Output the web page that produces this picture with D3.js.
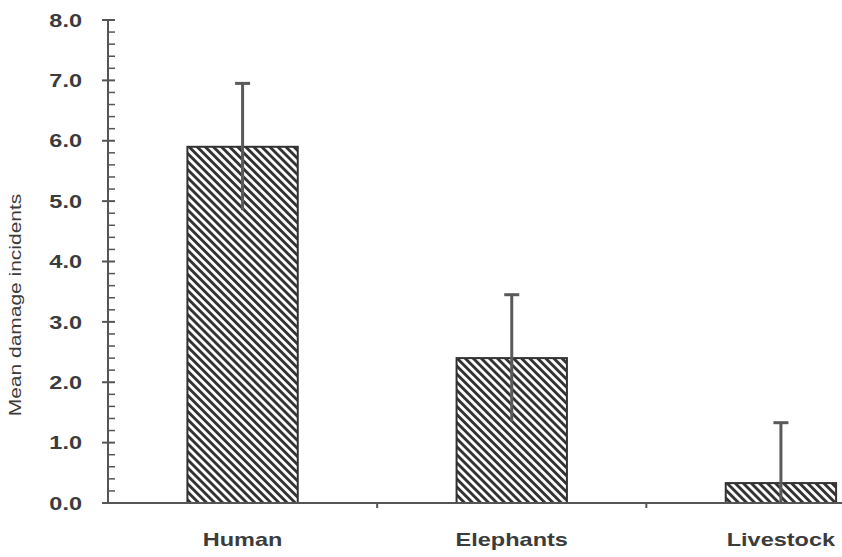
<!DOCTYPE html>
<html>
<head>
<meta charset="utf-8">
<script src="https://cdn.jsdelivr.net/npm/d3@7"></script>
<style>
  html, body { margin: 0; padding: 0; background: #fff; }
  svg { display: block; }
  text { font-family: "Liberation Sans", Arial, sans-serif; fill: #3c3c3c; }
</style>
</head>
<body>
<svg id="chart" width="842" height="557"></svg>
<script>
// Mean damage incidents per source of damage, with error bars
const categories = ["Human", "Elephants", "Livestock"];
const means = [5.9, 2.4, 0.33];
const errors = [1.05, 1.05, 1.0];
const yTicks = [0, 1, 2, 3, 4, 5, 6, 7, 8];
const yLabel = "Mean damage incidents";

const svg = d3.select("#chart");
const W = 842, H = 557;
const plotLeft = 108, plotTop = 20, plotBottom = 503;
const axisColor = "#555";
const wide = 1.27; // the labels use a wide sans face

const y = d3.scaleLinear().domain([0, 8]).range([plotBottom, plotTop]);
const x = d3.scaleBand().domain(categories)
  .range([plotLeft, 915.5]).paddingInner(0.59).paddingOuter(0.295);

// hatch fill
const defs = svg.append("defs");
const pat = defs.append("pattern")
  .attr("id", "hatch").attr("patternUnits", "userSpaceOnUse")
  .attr("width", 5.7).attr("height", 10)
  .attr("patternTransform", "rotate(-45)");
pat.append("rect").attr("width", 5.7).attr("height", 10).attr("fill", "#fff");
pat.append("rect").attr("x", 0).attr("width", 2.9).attr("height", 10).attr("fill", "#333");

function widen(sel) {
  sel.each(function() {
    const len = this.getComputedTextLength();
    d3.select(this).attr("textLength", len * wide).attr("lengthAdjust", "spacingAndGlyphs");
  });
}

// bars
svg.append("g").selectAll("rect").data(categories).join("rect")
  .attr("x", d => x(d))
  .attr("width", x.bandwidth())
  .attr("y", (d, i) => y(means[i]))
  .attr("height", (d, i) => y(0) - y(means[i]))
  .attr("fill", "url(#hatch)")
  .attr("stroke", "#333").attr("stroke-width", 2);

// error bars (upper cap only; lower end clipped at zero)
const eb = svg.append("g").attr("stroke", "#5a5a5a").attr("stroke-width", 3);
categories.forEach((c, i) => {
  const cx = x(c) + x.bandwidth() / 2;
  const hi = means[i] + errors[i];
  const lo = Math.max(0, means[i] - errors[i]);
  eb.append("line").attr("x1", cx).attr("x2", cx).attr("y1", y(hi)).attr("y2", y(lo));
  eb.append("line").attr("x1", cx - 7.5).attr("x2", cx + 7.5).attr("y1", y(hi)).attr("y2", y(hi));
});

// y axis with minor ticks
const ya = svg.append("g").attr("stroke", axisColor).attr("stroke-width", 2);
ya.append("line").attr("x1", plotLeft).attr("x2", plotLeft).attr("y1", y(8)).attr("y2", y(0));
d3.range(0, 8.0001, 0.2).forEach(v => {
  const isMajor = Math.abs(v - Math.round(v)) < 1e-6;
  ya.append("line")
    .attr("x1", isMajor ? plotLeft - 6 : plotLeft).attr("x2", plotLeft + 7)
    .attr("y1", y(v)).attr("y2", y(v))
    .attr("stroke-width", isMajor ? 2 : 1.5);
});
svg.append("g").selectAll("text").data(yTicks).join("text")
  .attr("x", 82).attr("y", d => y(d))
  .attr("dy", "0.36em")
  .attr("text-anchor", "end")
  .attr("font-size", 18.5).attr("font-weight", "bold")
  .text(d => d.toFixed(1))
  .call(widen);

// x axis
const xa = svg.append("g").attr("stroke", axisColor).attr("stroke-width", 2);
xa.append("line").attr("x1", plotLeft).attr("x2", W).attr("y1", plotBottom).attr("y2", plotBottom);
categories.slice(1).forEach(c => {
  const bx = x(c) - x.step() * x.paddingInner() / 2;
  xa.append("line").attr("x1", bx).attr("x2", bx).attr("y1", plotBottom).attr("y2", plotBottom + 5);
});
svg.append("g").selectAll("text").data(categories).join("text")
  .attr("x", d => x(d) + x.bandwidth() / 2)
  .attr("y", 546)
  .attr("text-anchor", "middle")
  .attr("font-size", 18.5).attr("font-weight", "bold")
  .text(d => d)
  .call(widen);

// y axis title
svg.append("text")
  .attr("transform", `translate(21,305) rotate(-90)`)
  .attr("text-anchor", "middle")
  .attr("font-size", 16.5)
  .text(yLabel)
  .call(widen);
</script>
</body>
</html>
